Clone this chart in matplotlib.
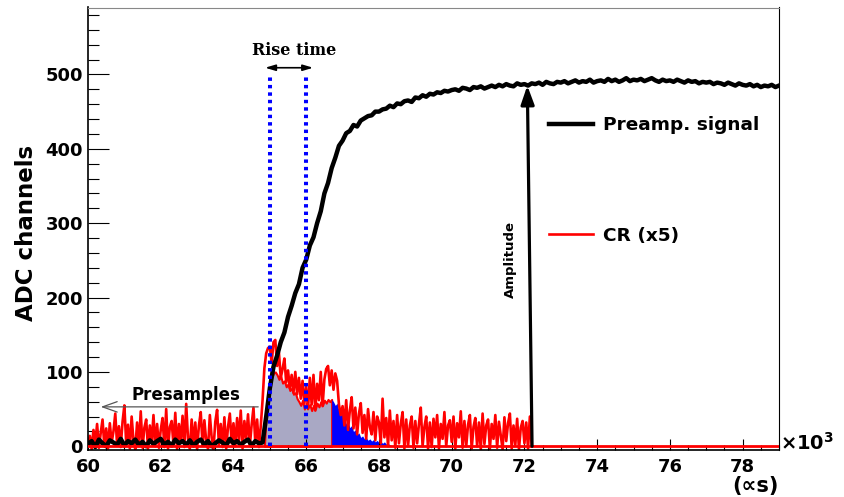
import numpy as np
import matplotlib
matplotlib.use('Agg')
import matplotlib.pyplot as plt
from matplotlib.ticker import MultipleLocator

plt.rcParams['font.family'] = ['DejaVu Sans']
plt.rcParams['font.weight'] = 'bold'
plt.rcParams['mathtext.default'] = 'bf'

# Preamp signal, one value per 0.1 (x10^3) from 60.0 to 79.0
preamp_start, preamp_step = 60.0, 0.1
preamp_y = [
    3, 7, -1, 9, 4, 0, 8, 5, 2, 10, 1, 7, 4, 9, 2, 6, 0, 8, 3, 7,
    10, 2, 6, 1, 9, 4, 7, 2, 8, 1, 6, 9, 2, 7, 0, 4, 8, 5, 1, 10,
    4, 7, 2, 6, 9, 1, 7, 4,
    5, 40, 78, 107, 122, 140, 153, 174, 189, 206, 218, 240, 251, 270, 281, 300,
    316, 340, 354, 374, 388, 404, 411,
    421, 424, 432, 430, 438, 441, 444, 445, 450, 450, 453, 454, 458, 456, 461,
    460, 464, 465, 463, 469, 468, 472, 470, 474, 473, 476, 475, 478, 477, 479,
    480, 478, 482, 481, 479, 483, 482, 484, 481, 483,
    485, 483, 486, 484, 487, 485, 484, 488, 486, 487,
    485, 488, 487, 489, 486, 490, 488, 487, 490, 489,
    491, 488, 490, 492, 489, 491, 490, 493, 489, 491,
    492, 490, 494, 491, 493, 490, 492, 495, 491, 493,
    492, 494, 491, 493, 495, 492, 490, 493, 491, 492,
    490, 493, 491, 489, 492, 490, 491, 488, 490, 489,
    490, 487, 489, 488, 486, 489, 487, 485, 488, 486,
    485, 487, 484, 486, 483, 485, 484, 486, 483, 485,
]

# CR signal (x5), one value per 0.05 from 60.0 to 72.2
cr_start, cr_step = 60.0, 0.05
cr_y = [
    2, 14, -4, 22, 3, 30, -2, 18, 36, 0, 24, -3, 31, 5, 20, 44, 2, 27, -1, 33,
    55, 4, 29, -3, 40, 8, -4, 32, 1, 47, -2, 25, 36, -3, 28, 4, 42, 0, 30, -2,
    22, 38, -1, 50, -3, 26, 34, 2, 45, -4, 30, 6, 41, -1, 57, 10, -3, 36, 3, 32,
    -4, 28, 46, 1, 35, 7, -3, 42, 12, -4, 33, 49, 2, 30, -1, 39, -3, 26, 44, 4,
    31, 0, 38, 8, 48, -3, 34, 10, 43, 1, 29, 52, 5, 36, -1, 27, 62, 105, 125, 132,
    134, 112, 140, 143, 108, 126, 92, 104, 118, 86, 102, 78, 96, 72, 100, 70, 92, 64, 88, 58,
    80, 50, 92, 56, 96, 48, 84, 62, 100, 54, 90, 104, 108, 82, 102, 76, 98, 88, 56, 42,
    54, 28, 62, 22, 48, 66, 24, 52, 16, 44, 58, 18, 42, 10, 50, 26, 16, 46, 8, 40,
    32, 4, 64, 12, 38, 0, 48, 8, 34, -2, 42, 4, 30, 46, -3, 36, 0, 28, 40, -2,
    34, 4, 30, 52, 0, 26, 40, -3, 32, -1, 37, 12, 42, -3, 30, 10, 46, 0, 28, 35,
    6, 40, -3, 31, 12, 47, -2, 34, 0, 29, 42, -3, 26, 38, 0, 32, -4, 44, 3, 28,
    36, -3, 30, 10, 42, -2, 33, 14, -4, 39, 7, 31, 44, -3, 28, 2, 37, -4, 25, 34,
    4, 32, -3, 40, 0,
]

# rise-time window (gray) and tail (blue) integrations
gray_start, gray_step = 64.85, 0.05
gray_y = [0, 45, 70, 85, 92, 98, 100, 96, 90, 94, 85, 88, 80, 84, 75, 78, 70, 72, 64, 60,
          55, 62, 50, 58, 52, 56, 48, 55, 50, 58, 53, 60, 55, 62, 58, 63, 60, 63]
blue_start, blue_step = 66.70, 0.05
blue_y = [63, 60, 55, 58, 48, 42, 45, 38, 30, 34, 25, 28, 20, 22, 16, 18, 12, 14, 10, 12,
          8, 10, 7, 9, 6, 8, 5, 7, 4, 6, 3, 4, 2, 1, 0]

rise_marks = [65.0, 66.0]
amp_x = [72.21, 72.08]
amp_value = 485

preamp_x = preamp_start + preamp_step * np.arange(len(preamp_y))
cr_x = cr_start + cr_step * np.arange(len(cr_y))
gray_x = gray_start + gray_step * np.arange(len(gray_y))
blue_x = blue_start + blue_step * np.arange(len(blue_y))

fig = plt.figure(figsize=(8.44, 4.97), dpi=100)
ax = fig.add_axes([88 / 844, 47 / 497, 691 / 844, 442.5 / 497])

ax.fill_between(gray_x, 0, gray_y, color='#a9a8c4', edgecolor='red', lw=1.5, zorder=1)
ax.fill_between(blue_x, 0, blue_y, color='blue', lw=0, zorder=1)
cr_line, = ax.plot(cr_x, cr_y, color='red', lw=1.9, zorder=2, label='CR (x5)')
pre_line, = ax.plot(preamp_x, preamp_y, color='black', lw=3.2, zorder=3, label='Preamp. signal')
ax.axhline(0, color='red', lw=2, zorder=4)

ax.vlines(rise_marks, 0, 496, colors='blue', lw=2.9, linestyles=(0, (0.85, 1.0)), zorder=5)

ax.annotate('', xy=(64.87, 509), xytext=(66.19, 509),
            arrowprops=dict(arrowstyle='<|-|>,head_length=0.4,head_width=0.12', color='black',
                            lw=1.2, mutation_scale=15, shrinkA=0, shrinkB=0))
ax.text(65.67, 532, 'Rise time', family='DejaVu Serif', fontweight='bold', fontsize=11.5,
        ha='center', va='center')

ax.annotate('', xy=(60.35, 53), xytext=(64.68, 53),
            arrowprops=dict(arrowstyle='->,head_length=0.7,head_width=0.25', color='#555555',
                            lw=0.9, mutation_scale=15, shrinkA=0, shrinkB=0))
ax.text(62.70, 69, 'Presamples', fontsize=12, fontweight='bold', ha='center', va='center')

ax.annotate('', xy=(amp_x[1], amp_value), xytext=(amp_x[0], 0),
            arrowprops=dict(arrowstyle='-|>,head_length=0.7,head_width=0.25', color='black',
                            lw=2.3, mutation_scale=16, shrinkA=0, shrinkB=0), zorder=6)
ax.text(71.61, 251, 'Amplitude', fontsize=9.5, fontweight='bold', rotation=90,
        ha='center', va='center')

ax.set_xlim(60, 79)
ax.set_ylim(-5, 590)
ax.xaxis.set_major_locator(MultipleLocator(2))
ax.xaxis.set_minor_locator(MultipleLocator(0.5))
ax.yaxis.set_major_locator(MultipleLocator(100))
ax.yaxis.set_minor_locator(MultipleLocator(20))
ax.tick_params(axis='x', which='major', direction='in', length=8, width=0.8, pad=6, labelsize=13)
ax.tick_params(axis='x', which='minor', direction='in', length=3.5, width=0.8)
ax.tick_params(axis='y', which='major', direction='in', length=15, width=0.8, pad=3.6, labelsize=13)
ax.tick_params(axis='y', which='minor', direction='in', length=7.7, width=0.8)

for s in ['left', 'bottom']:
    ax.spines[s].set_linewidth(1.2)
ax.spines['top'].set_color('#888888')
ax.spines['top'].set_linewidth(0.8)
ax.spines['right'].set_linewidth(0.8)

ax.set_ylabel('ADC channels', fontsize=16.5, fontweight='bold')
ax.yaxis.set_label_coords(-0.072, 0.49)
ax.set_xlabel('(\u221ds)', fontsize=15, fontweight='bold', loc='right')
ax.xaxis.set_label_coords(1.0, -0.058)
ax.text(1.002, 0.016, '\u00d710$^{3}$', transform=ax.transAxes, fontsize=14,
        fontweight='bold', ha='left', va='center')

ax.legend(handles=[pre_line, cr_line], loc='upper left', bbox_to_anchor=(0.667, 0.754),
          frameon=False, borderaxespad=0, borderpad=0, handlelength=2.4,
          handletextpad=0.55, labelspacing=5.0, prop={'size': 13.3, 'weight': 'bold'})

fig.savefig('out.png', dpi=100)
